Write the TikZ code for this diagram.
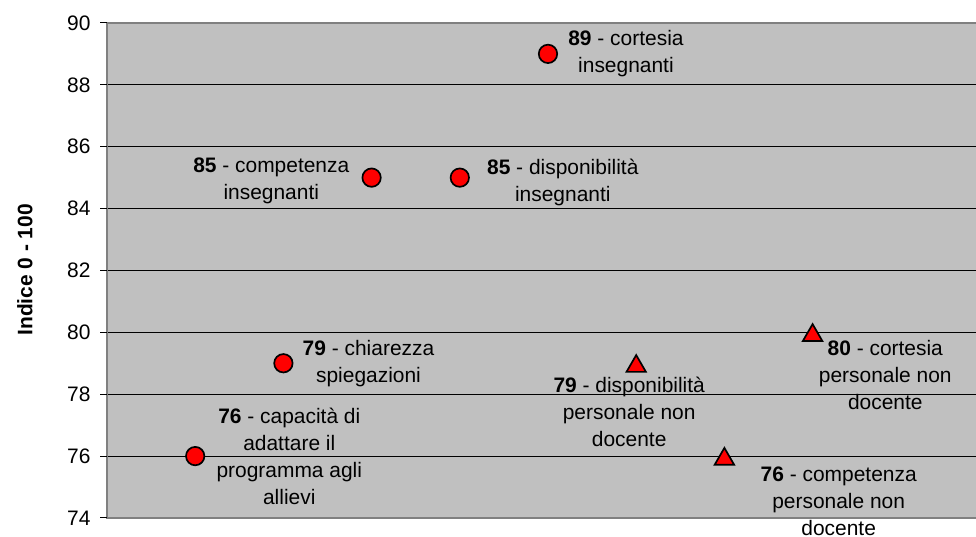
\documentclass[tikz,border=0pt]{standalone}
\usepackage{fontspec}
\setmainfont{Liberation Sans}
\usetikzlibrary{positioning,shapes.geometric}
\definecolor{plotgray}{HTML}{C0C0C0}
\definecolor{framegray}{HTML}{808080}

\begin{document}
\begin{tikzpicture}[x=2.205cm, y=0.7735cm,
  font=\fontsize{14.9pt}{19.2pt}\selectfont,
  dot/.style={circle, draw, line width=1.2pt, fill=red, minimum size=4.6mm, inner sep=0pt},
  tri/.style={regular polygon, regular polygon sides=3, draw, line width=1.2pt, fill=red,
    minimum size=5.6mm, inner sep=0pt, yshift=-0.75mm},
  lab/.style={align=center, inner sep=0pt},
  ticklab/.style={left=2.25mm, inner sep=0pt}]
\useasboundingbox (-1.2132,73.386) rectangle (9.8526,90.742);

% Plot area
\fill[plotgray] (0,74) rectangle (9.8526,90);
\foreach \v in {76,78,...,88}
  \draw[line width=0.7pt] (0,\v) -- (9.8526,\v);
\draw[framegray, line width=1.4pt] (9.8526,90) -- (0,90) -- (0,74) -- (9.8526,74);

% Axis
\foreach \v in {74,76,...,90}
  \draw[line width=0.7pt] (0,\v) -- (-0.08,\v) node[ticklab] (y\v) {\v};
\node[rotate=90, font=\fontsize{14.9pt}{19.2pt}\selectfont\bfseries] (ytitle) at (-0.93,82.02) {Indice 0 - 100};

% Teachers
\node[dot] (capacita) at (1,76) {};
\node[dot] (chiarezza) at (2,79) {};
\node[dot] (competenza) at (3,85) {};
\node[dot] (disponibilita) at (4,85) {};
\node[dot] (cortesia) at (5,89) {};

\node[lab, right=2.75mm of capacita] (capacita-lab)
  {\textbf{76} - capacità di\\adattare il\\programma agli\\allievi};
\node[lab, right=2.25mm of chiarezza] (chiarezza-lab)
  {\textbf{79} - chiarezza\\spiegazioni};
\node[lab, left=3mm of competenza, yshift=-0.75mm] (competenza-lab)
  {\textbf{85} - competenza\\insegnanti};
\node[lab, right=4.25mm of disponibilita, yshift=-1.25mm] (disponibilita-lab)
  {\textbf{85} - disponibilità\\insegnanti};
\node[lab, right=2.5mm of cortesia] (cortesia-lab)
  {\textbf{89} - cortesia\\insegnanti};

% Non-teaching staff
\node[tri] (dispnd) at (6,79) {};
\node[tri] (compnd) at (7,76) {};
\node[tri] (cortnd) at (8,80) {};

\node[lab, below=1mm of dispnd, xshift=-1.75mm] (dispnd-lab)
  {\textbf{79} - disponibilità\\personale non\\docente};
\node[lab, anchor=north west] (compnd-lab) at ([xshift=9mm, yshift=-0.25mm]compnd.south)
  {\textbf{76} - competenza\\personale non\\docente};
\node[lab, anchor=north west] (cortnd-lab) at ([xshift=1.5mm, yshift=0.5mm]cortnd.south)
  {\textbf{80} - cortesia\\personale non\\docente};
\end{tikzpicture}
\end{document}
